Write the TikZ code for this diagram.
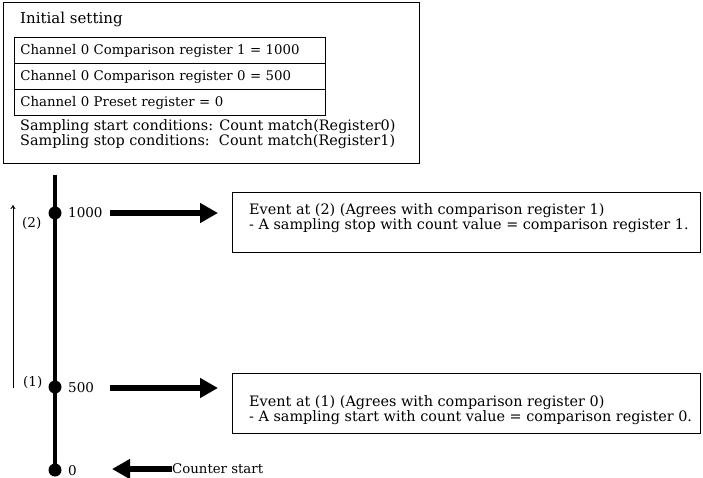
\documentclass[tikz,border=0pt]{standalone}
\usepackage{fontspec}
\setmainfont{DejaVu Serif}
\usetikzlibrary{arrows.meta}
\begin{document}
\begin{tikzpicture}[x=1pt,y=-1pt,
  txt/.style={inner sep=0pt,anchor=west,font=\fontsize{14.4}{14}\selectfont},
  regbox/.style={draw,line width=0.9pt,minimum width=311pt,minimum height=26pt,anchor=north west,text width=305pt,align=left,inner xsep=3pt,font=\fontsize{13.3}{14}\selectfont},
  evbox/.style={draw,line width=0.9pt,minimum width=468pt,minimum height=60pt,anchor=north west},
  bigarrow/.style={line width=6pt,-{Triangle[length=18pt,width=19pt]}},
  dot/.style={circle,fill,inner sep=0pt,minimum size=13pt},
  numlab/.style={txt,font=\fontsize{13.5}{14}\selectfont}]
\useasboundingbox (0,0) rectangle (703,478);
% initial setting box
\node[draw,line width=0.9pt,anchor=north west,minimum width=416pt,minimum height=161pt,inner sep=0pt] (init) at (3,2) {};
\node[txt,font=\fontsize{15}{14}\selectfont] (title) at (20,19) {Initial setting};
\node[regbox] (r1) at (14,37) {\hspace*{3pt}Channel 0 Comparison register 1 = 1000};
\node[regbox] (r0) at (14,63) {\hspace*{3pt}Channel 0 Comparison register 0 = 500};
\node[regbox] (pr) at (14,89) {\hspace*{3pt}Channel 0 Preset register = 0};
\node[txt,align=left] (cond) at (20,134) {Sampling start conditions: Count match(Register0)\\Sampling stop conditions:\ \ Count match(Register1)};
% timeline
\coordinate (ttop) at (55,175);
\node[dot] (d0) at (55,470) {};
\node[dot] (d500) at (55,387) {};
\node[dot] (d1000) at (55,213) {};
\draw[line width=3.5pt] (ttop) -- (d0.center);
\node[numlab] (l1000) at (68,213) {1000};
\node[numlab] (l500) at (68,388) {500};
\node[numlab] (l0) at (68,471) {0};
% thin arrow
\coordinate (ta) at (13,388);
\coordinate (tb) at (13,205);
\draw[line width=0.9pt,-{To[length=4pt,width=5pt]}] (ta) -- (tb);
\node[numlab] (p2) at (22,223) {(2)};
\node[numlab] (p1) at (23,382) {(1)};
% event boxes
\node[evbox] (e2) at (232,192) {};
\node[txt,align=left] (e2t) at (249,218) {Event at (2) (Agrees with comparison register 1)\\- A sampling stop with count value = comparison register 1.};
\node[evbox] (e1) at (232,373) {};
\node[txt,align=left] (e1t) at (249,410.5) {Event at (1) (Agrees with comparison register 0)\\- A sampling start with count value = comparison register 0.};
% big arrows
\coordinate (a2s) at (110,213);
\coordinate (a2e) at (218,213);
\draw[bigarrow] (a2s) -- (a2e);
\coordinate (a1s) at (110,388);
\coordinate (a1e) at (218,388);
\draw[bigarrow] (a1s) -- (a1e);
\node[txt,font=\fontsize{13.3}{14}\selectfont] (cs) at (172,469) {Counter start};
\coordinate (csa) at (112,469);
\draw[bigarrow] (cs.west) -- (csa);
\end{tikzpicture}
\end{document}
